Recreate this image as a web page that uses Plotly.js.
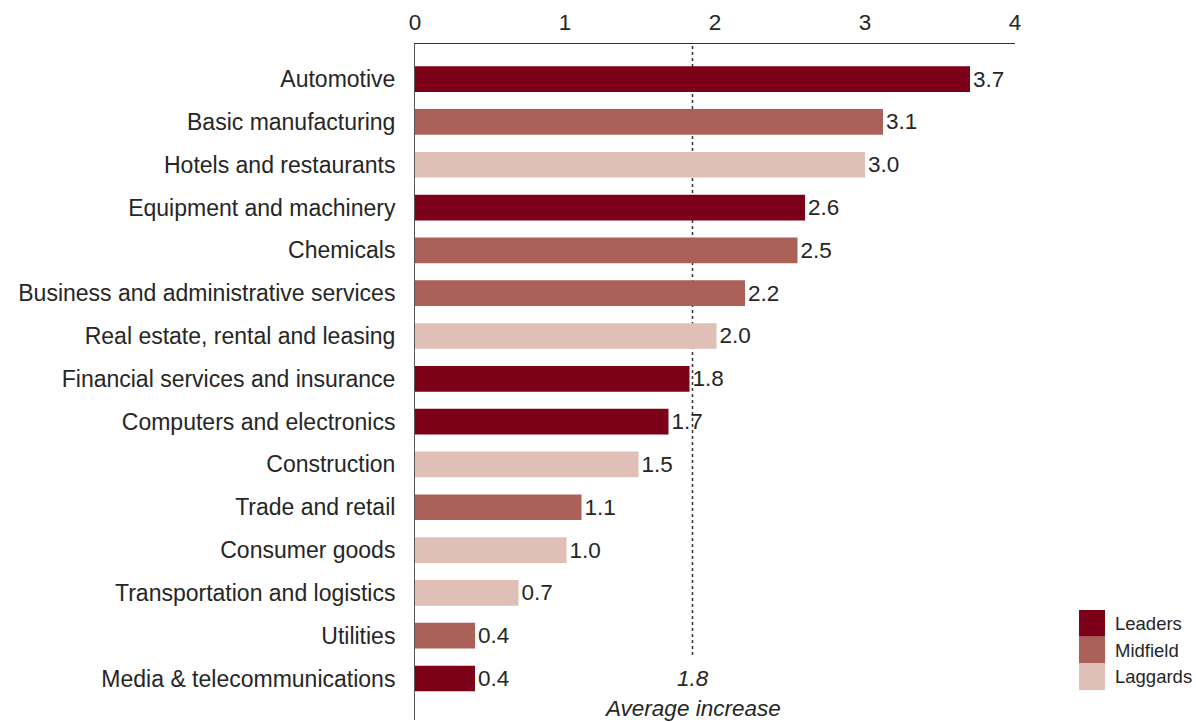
<!DOCTYPE html>
<html>
<head>
<meta charset="utf-8">
<script src="https://cdn.plot.ly/plotly-3.0.1.min.js"></script>
<style>html,body{margin:0;padding:0;background:#fff;}</style>
</head>
<body>
<div id="chart" style="width:1196px;height:722px;"></div>
<script>
const categories = [
  "Automotive",
  "Basic manufacturing",
  "Hotels and restaurants",
  "Equipment and machinery",
  "Chemicals",
  "Business and administrative services",
  "Real estate, rental and leasing",
  "Financial services and insurance",
  "Computers and electronics",
  "Construction",
  "Trade and retail",
  "Consumer goods",
  "Transportation and logistics",
  "Utilities",
  "Media & telecommunications"
];
const values = [3.7, 3.12, 3.0, 2.6, 2.55, 2.2, 2.01, 1.83, 1.69, 1.49, 1.11, 1.01, 0.69, 0.4, 0.4];
const valueLabels = ["3.7","3.1","3.0","2.6","2.5","2.2","2.0","1.8","1.7","1.5","1.1","1.0","0.7","0.4","0.4"];
const groups = ["Leaders","Midfield","Laggards","Leaders","Midfield","Midfield","Laggards","Leaders","Leaders","Laggards","Midfield","Laggards","Laggards","Midfield","Leaders"];
const groupNames = ["Leaders","Midfield","Laggards"];
const groupColors = {"Leaders":"#7d0019","Midfield":"#ab6158","Laggards":"#e0bfb7"};
const averageValue = 1.85;
const averageLabel = "1.8";
const averageCaption = "Average increase";
const xTicks = [0,1,2,3,4];

const FONT = "Liberation Sans, Arial, Helvetica, sans-serif";
const TXT = "#262626";
const FS = 23;

const trace = {
  type: "bar",
  orientation: "h",
  y: categories,
  x: values,
  width: 0.6,
  marker: {color: groups.map(g => groupColors[g])},
  text: valueLabels,
  textposition: "outside",
  cliponaxis: false,
  textfont: {family: FONT, size: 22.5, color: TXT},
  hoverinfo: "x+y",
  showlegend: false
};

const shapes = [{
  type: "line", layer: "below",
  xref: "x", yref: "paper",
  x0: averageValue, x1: averageValue, y0: 0.096, y1: 1,
  line: {color: "#333", width: 1.5, dash: "dot"}
}];
const annotations = [
  {xref:"x", yref:"paper", x: averageValue, y: 0.0607, text: averageLabel, showarrow:false,
   font:{family:FONT, size:22.5, color:TXT, style:"italic"}, xanchor:"center", yanchor:"middle"},
  {xref:"x", yref:"paper", x: averageValue, y: 0.0163, text: averageCaption, showarrow:false,
   font:{family:FONT, size:22.5, color:TXT, style:"italic"}, xanchor:"center", yanchor:"middle"}
];
// manual legend
const legTop = 0.1627, legH = 0.0395;
groupNames.forEach((g, i) => {
  shapes.push({type:"rect", xref:"paper", yref:"paper",
    x0: 1.1067, x1: 1.15, y0: legTop - (i+1)*legH, y1: legTop - i*legH,
    fillcolor: groupColors[g], line:{width:0}});
  annotations.push({xref:"paper", yref:"paper", x: 1.1633, y: legTop - (i+0.5)*legH,
    text: g, showarrow:false, xanchor:"left", yanchor:"middle",
    font:{family:FONT, size:18.5, color:TXT}});
});

const layout = {
  width: 1196, height: 722,
  margin: {l: 415, r: 181, t: 44, b: 2},
  paper_bgcolor: "#fff", plot_bgcolor: "#fff",
  xaxis: {
    side: "top", range: [0, 4], tickvals: xTicks, ticktext: xTicks.map(String),
    showgrid: false, zeroline: false, showline: true, linecolor: "#333", linewidth: 1,
    ticks: "", ticklabelstandoff: 4, fixedrange: true,
    tickfont: {family: FONT, size: 22.5, color: TXT}
  },
  yaxis: {
    type: "category", range: [14.97, -0.82],
    showgrid: false, zeroline: false, showline: true, linecolor: "#555", linewidth: 1,
    ticks: "", ticklabelstandoff: 14, fixedrange: true,
    tickfont: {family: FONT, size: FS, color: TXT}
  },
  shapes: shapes,
  annotations: annotations,
  bargap: 0.4
};

Plotly.newPlot("chart", [trace], layout, {displayModeBar: false, staticPlot: true});
</script>
</body>
</html>
